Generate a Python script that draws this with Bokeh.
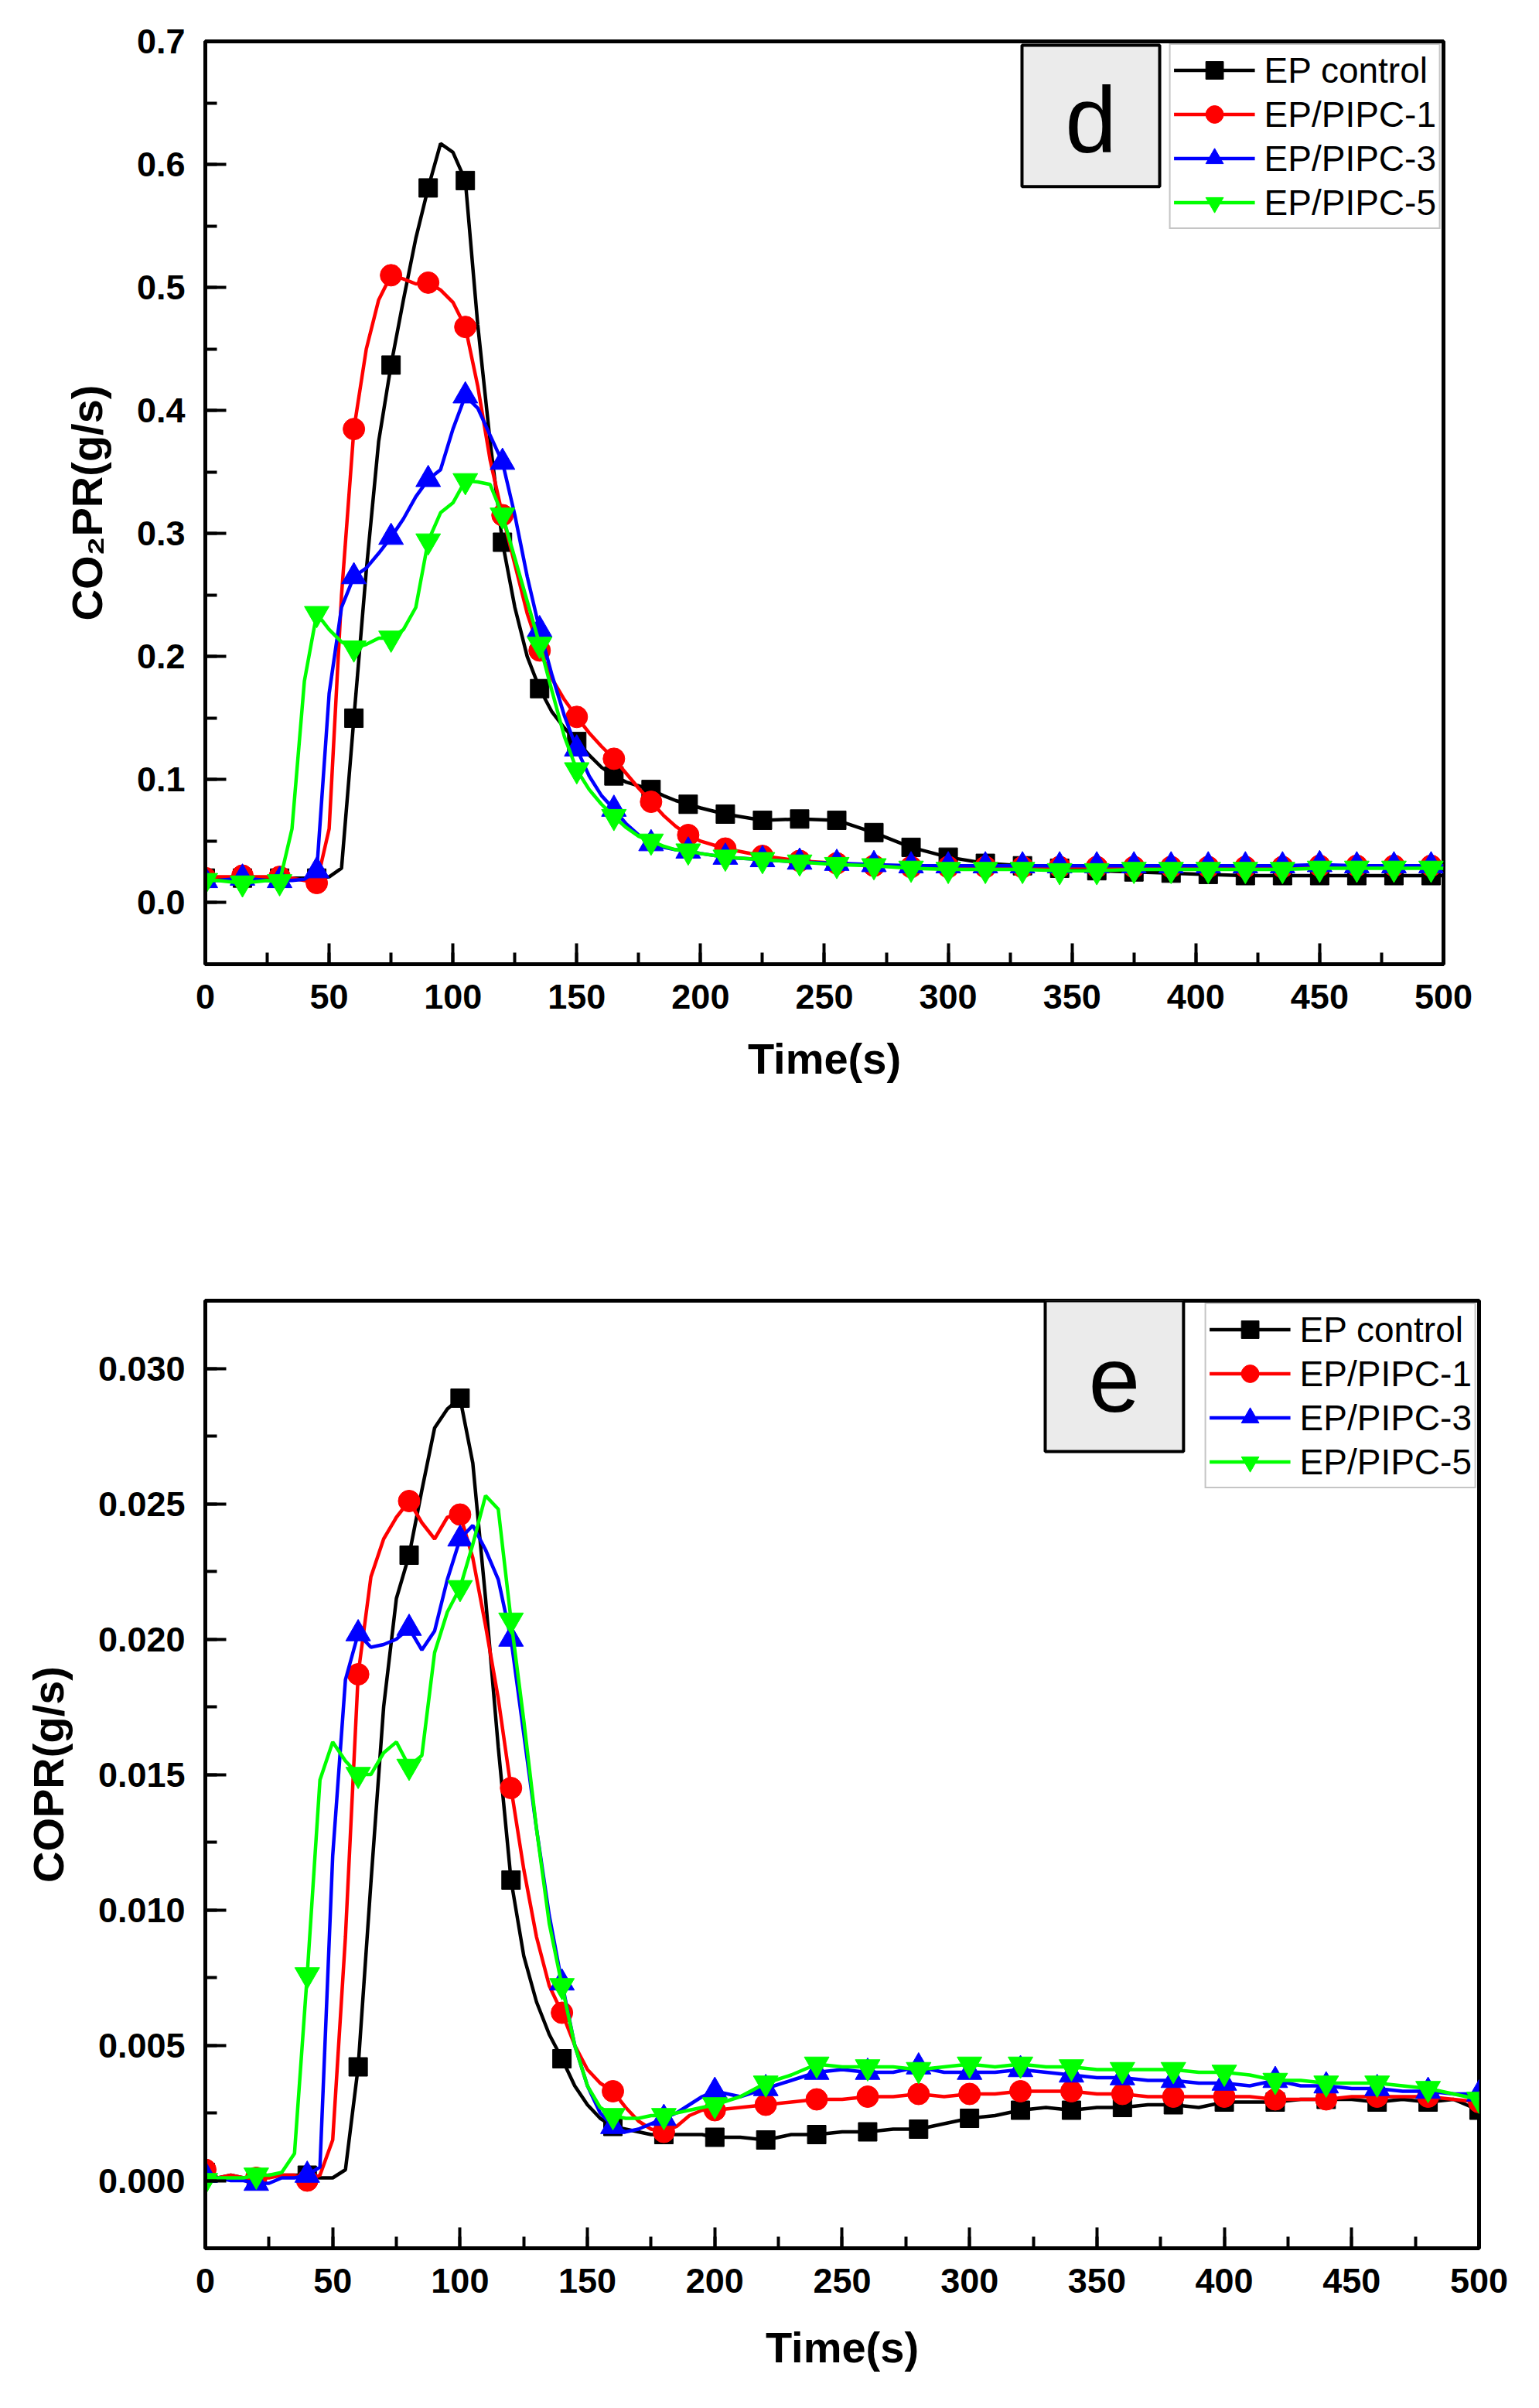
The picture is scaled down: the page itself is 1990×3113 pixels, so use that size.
from bokeh.plotting import figure
from bokeh.layouts import column
from bokeh.models import (Range1d, SingleIntervalTicker, NumeralTickFormatter,
                          BoxAnnotation, Label)
from bokeh.embed import file_html
from bokeh.resources import INLINE

FONT = "Liberation Sans"
labels = ["EP control", "EP/PIPC-1", "EP/PIPC-3", "EP/PIPC-5"]
colors = ["black", "#ff0000", "#0000ff", "#00ff00"]
markers = ["square", "circle", "triangle", "inverted_triangle"]
msizes = [24, 28, 32, 32]

# --- panel d: CO2 production rate (g/s), markers every 15 s
t_co2 = [0, 5, 10, 15, 20, 25, 30, 35, 40, 45, 50, 55, 60, 65, 70, 75, 80, 85, 90, 95,
         100, 105, 110, 115, 120, 125, 130, 135, 140, 145, 150, 155, 160, 165, 170, 175,
         180, 185, 190, 195, 200,
         210, 225, 240, 255, 270, 285, 300, 315, 330, 345, 360, 375, 390, 405, 420, 435,
         450, 465, 480, 495, 500]
co2_control = [0.020, 0.020, 0.020, 0.020, 0.020, 0.020, 0.020, 0.020, 0.020, 0.020,
               0.021, 0.028, 0.150, 0.270, 0.375, 0.437, 0.490, 0.540, 0.581, 0.617,
               0.610, 0.587, 0.470, 0.375, 0.293, 0.240, 0.200, 0.174, 0.155, 0.142,
               0.131, 0.120, 0.110, 0.103, 0.098, 0.095, 0.092, 0.087, 0.083, 0.080,
               0.077,
               0.072, 0.067, 0.068, 0.067, 0.057, 0.045, 0.037, 0.032, 0.030, 0.028,
               0.026, 0.025, 0.024, 0.023, 0.022, 0.022, 0.022, 0.022, 0.022, 0.022,
               0.022]
co2_pipc1 = [0.020, 0.021, 0.021, 0.022, 0.021, 0.021, 0.021, 0.020, 0.018, 0.016,
             0.060, 0.250, 0.385, 0.450, 0.490, 0.510, 0.507, 0.503, 0.504, 0.498,
             0.488, 0.468, 0.420, 0.360, 0.315, 0.275, 0.235, 0.205, 0.182, 0.165,
             0.151, 0.138, 0.127, 0.117, 0.105, 0.093, 0.082, 0.071, 0.062, 0.055,
             0.050,
             0.044, 0.038, 0.034, 0.032, 0.030, 0.029, 0.029, 0.029, 0.029, 0.029,
             0.029, 0.029, 0.029, 0.029, 0.029, 0.029, 0.030, 0.030, 0.030, 0.030,
             0.030]
co2_pipc3 = [0.018, 0.018, 0.019, 0.020, 0.019, 0.018, 0.018, 0.018, 0.019, 0.026,
             0.170, 0.240, 0.265, 0.272, 0.284, 0.297, 0.312, 0.330, 0.344, 0.352,
             0.385, 0.412, 0.402, 0.380, 0.358, 0.315, 0.265, 0.222, 0.185, 0.152,
             0.125, 0.103, 0.087, 0.076, 0.064, 0.055, 0.048, 0.045, 0.043, 0.042,
             0.040,
             0.037, 0.035, 0.033, 0.032, 0.031, 0.030, 0.030, 0.030, 0.030, 0.030,
             0.030, 0.030, 0.030, 0.030, 0.030, 0.030, 0.031, 0.030, 0.030, 0.030,
             0.030]
co2_pipc5 = [0.018, 0.018, 0.017, 0.016, 0.017, 0.018, 0.017, 0.060, 0.180, 0.235,
             0.222, 0.212, 0.207, 0.210, 0.215, 0.215, 0.222, 0.240, 0.294, 0.317,
             0.325, 0.343, 0.342, 0.340, 0.315, 0.280, 0.245, 0.210, 0.172, 0.135,
             0.108, 0.092, 0.080, 0.070, 0.061, 0.054, 0.050, 0.046, 0.043, 0.042,
             0.040,
             0.037, 0.035, 0.033, 0.031, 0.030, 0.028, 0.027, 0.027, 0.027, 0.026,
             0.026, 0.027, 0.027, 0.027, 0.027, 0.027, 0.028, 0.028, 0.028, 0.028,
             0.028]

# --- panel e: CO production rate (g/s), markers every 20 s
t_co = [0, 5, 10, 15, 20, 25, 30, 35, 40, 45, 50, 55, 60, 65, 70, 75, 80, 85, 90, 95,
        100, 105, 110, 115, 120, 125, 130, 135, 140, 145, 150, 155, 160, 165, 170, 175,
        180, 185, 190, 195, 200,
        210, 220, 230, 240, 250, 260, 270, 280, 290, 300, 310, 320, 330, 340, 350, 360,
        370, 380, 390, 400, 410, 420, 430, 440, 450, 460, 470, 480, 490, 500]
co_control = [0.0003, 0.0001, 0.0002, 0.0001, 0.0001, 0.0002, 0.0002, 0.0002, 0.0002, 0.0001,
              0.0001, 0.0004, 0.0042, 0.0110, 0.0175, 0.0215, 0.0231, 0.0255, 0.0278, 0.0285,
              0.0289, 0.0265, 0.0215, 0.0160, 0.0111, 0.0083, 0.0066, 0.0054, 0.0045, 0.0035,
              0.0028, 0.0023, 0.0020, 0.0019, 0.0018, 0.0017, 0.0017, 0.0017, 0.0017, 0.0017,
              0.0016,
              0.0016, 0.0015, 0.0017, 0.0017, 0.0018, 0.0018, 0.0019, 0.0019, 0.0021, 0.0023,
              0.0024, 0.0026, 0.0027, 0.0026, 0.0027, 0.0027, 0.0028, 0.0028, 0.0027, 0.0029,
              0.0029, 0.0029, 0.0030, 0.0030, 0.0030, 0.0029, 0.0030, 0.0029, 0.0030, 0.0026]
co_pipc1 = [0.0004, 0.0001, 0.0002, 0.0001, 0.0001, 0.0001, 0.0002, 0.0002, 0.0000, 0.0002,
            0.0015, 0.0090, 0.0187, 0.0223, 0.0237, 0.0245, 0.0251, 0.0243, 0.0237, 0.0245,
            0.0246, 0.0230, 0.0205, 0.0178, 0.0145, 0.0115, 0.0090, 0.0072, 0.0062, 0.0050,
            0.0041, 0.0036, 0.0033, 0.0027, 0.0022, 0.0019, 0.0018, 0.0020, 0.0024, 0.0026,
            0.0026,
            0.0027, 0.0028, 0.0029, 0.0030, 0.0030, 0.0031, 0.0031, 0.0032, 0.0031, 0.0032,
            0.0032, 0.0033, 0.0033, 0.0033, 0.0032, 0.0032, 0.0031, 0.0031, 0.0031, 0.0031,
            0.0031, 0.0030, 0.0030, 0.0030, 0.0031, 0.0031, 0.0031, 0.0031, 0.0030, 0.0029]
co_pipc3 = [0.0002, 0.0001, 0.0000, 0.0000, -0.0001, -0.0001, 0.0001, 0.0001, 0.0002, 0.0005,
            0.0120, 0.0185, 0.0202, 0.0197, 0.0198, 0.0200, 0.0204, 0.0196, 0.0203, 0.0222,
            0.0237, 0.0242, 0.0233, 0.0222, 0.0200, 0.0165, 0.0130, 0.0098, 0.0073, 0.0050,
            0.0035, 0.0025, 0.0020, 0.0018, 0.0019, 0.0021, 0.0023, 0.0025, 0.0028, 0.0031,
            0.0033,
            0.0031, 0.0034, 0.0037, 0.0040, 0.0041, 0.0040, 0.0040, 0.0042, 0.0040, 0.0040,
            0.0040, 0.0041, 0.0040, 0.0039, 0.0038, 0.0038, 0.0037, 0.0037, 0.0036, 0.0036,
            0.0035, 0.0037, 0.0035, 0.0035, 0.0034, 0.0034, 0.0033, 0.0033, 0.0032, 0.0032]
co_pipc5 = [0.0000, 0.0001, 0.0001, 0.0001, 0.0002, 0.0002, 0.0003, 0.0010, 0.0076, 0.0148,
            0.0162, 0.0155, 0.0150, 0.0150, 0.0158, 0.0162, 0.0153, 0.0157, 0.0195, 0.0210,
            0.0219, 0.0235, 0.0253, 0.0248, 0.0207, 0.0170, 0.0130, 0.0095, 0.0072, 0.0050,
            0.0035, 0.0027, 0.0024, 0.0023, 0.0023, 0.0024, 0.0024, 0.0025, 0.0026, 0.0027,
            0.0028,
            0.0031, 0.0036, 0.0039, 0.0043, 0.0042, 0.0042, 0.0042, 0.0041, 0.0042, 0.0043,
            0.0042, 0.0043, 0.0042, 0.0042, 0.0041, 0.0041, 0.0041, 0.0041, 0.0040, 0.0040,
            0.0039, 0.0037, 0.0037, 0.0036, 0.0036, 0.0036, 0.0035, 0.0034, 0.0032, 0.0030]


def make_panel(t, series, every, y_range, y_step, y_fmt, y_label, letter, box, letter_y,
               frame_w, frame_h, border_left, border_top, border_bottom, label_standoff):
    p = figure(x_range=Range1d(0, 500.01), y_range=y_range,
               frame_width=frame_w, frame_height=frame_h,
               min_border_left=border_left, min_border_right=60,
               min_border_top=border_top, min_border_bottom=border_bottom,
               output_backend="svg", toolbar_location=None, tools="")
    p.xgrid.visible = False
    p.ygrid.visible = False
    p.outline_line_color = "black"
    p.outline_line_width = 5
    p.outline_line_alpha = 1

    for ys, lab, col, mk, ms in zip(series, labels, colors, markers, msizes):
        p.line(t, ys, line_color=col, line_width=4.5, legend_label=lab)
        mx = [x for x in t if x % every == 0]
        my = [y for x, y in zip(t, ys) if x % every == 0]
        p.scatter(mx, my, marker=mk, size=ms, fill_color=col, line_color=col,
                  legend_label=lab)

    p.xaxis.ticker = SingleIntervalTicker(interval=50, num_minor_ticks=2)
    p.yaxis.ticker = SingleIntervalTicker(interval=y_step, num_minor_ticks=2)
    p.yaxis.formatter = NumeralTickFormatter(format=y_fmt)
    p.xaxis.axis_label = "Time(s)"
    p.yaxis.axis_label = y_label
    for ax in (p.xaxis[0], p.yaxis[0]):
        ax.axis_line_color = "black"
        ax.axis_line_width = 5
        ax.major_tick_in = 27
        ax.major_tick_out = 0
        ax.minor_tick_in = 15
        ax.minor_tick_out = 0
        ax.major_tick_line_width = 4
        ax.minor_tick_line_width = 4
        ax.major_tick_line_color = "black"
        ax.minor_tick_line_color = "black"
        ax.major_label_standoff = 26
        ax.major_label_text_font = FONT
        ax.major_label_text_font_size = "45px"
        ax.major_label_text_font_style = "bold"
        ax.major_label_text_color = "black"
        ax.axis_label_text_font = FONT
        ax.axis_label_text_font_size = "56px"
        ax.axis_label_text_font_style = "bold"
        ax.axis_label_text_color = "black"
    p.xaxis.axis_label_standoff = label_standoff
    p.yaxis.axis_label_standoff = 30

    lg = p.legend[0]
    lg.location = "top_right"
    lg.margin = 3
    lg.padding = 4
    lg.spacing = 0
    lg.glyph_width = 105
    lg.glyph_height = 57
    lg.label_height = 40
    lg.label_standoff = 12
    lg.label_text_font = FONT
    lg.label_text_font_size = "46px"
    lg.label_text_color = "black"
    lg.border_line_color = "#8c8c8c"
    lg.border_line_width = 2
    lg.background_fill_color = "white"
    lg.background_fill_alpha = 1

    left, right, top, bottom = box
    p.add_layout(BoxAnnotation(left=left, right=right, top=top, bottom=bottom,
                               fill_color="#ebebeb", fill_alpha=1,
                               line_color="black", line_width=4, line_alpha=1))
    p.add_layout(Label(x=(left + right) / 2, y=letter_y, text=letter,
                       text_font=FONT, text_font_size="120px", text_color="black",
                       text_align="center", text_baseline="middle"))
    return p


p1 = make_panel(t_co2, [co2_control, co2_pipc1, co2_pipc3, co2_pipc5], 15,
                Range1d(-0.05, 0.7001), 0.1, "0.0", "CO\u2082PR(g/s)",
                "d", (329.8, 385.4, 0.697, 0.582), 0.637,
                1601, 1193, 249, 53, 246, 30)
p2 = make_panel(t_co, [co_control, co_pipc1, co_pipc3, co_pipc5], 20,
                Range1d(-0.0025, 0.0325), 0.005, "0.000", "COPR(g/s)",
                "e", (329.7, 384.0, 0.0325, 0.02693), 0.0296,
                1647, 1225, 265, 189, 180, 36)

layout = column(p1, p2)
open("out.html", "w").write(file_html(layout, INLINE))
